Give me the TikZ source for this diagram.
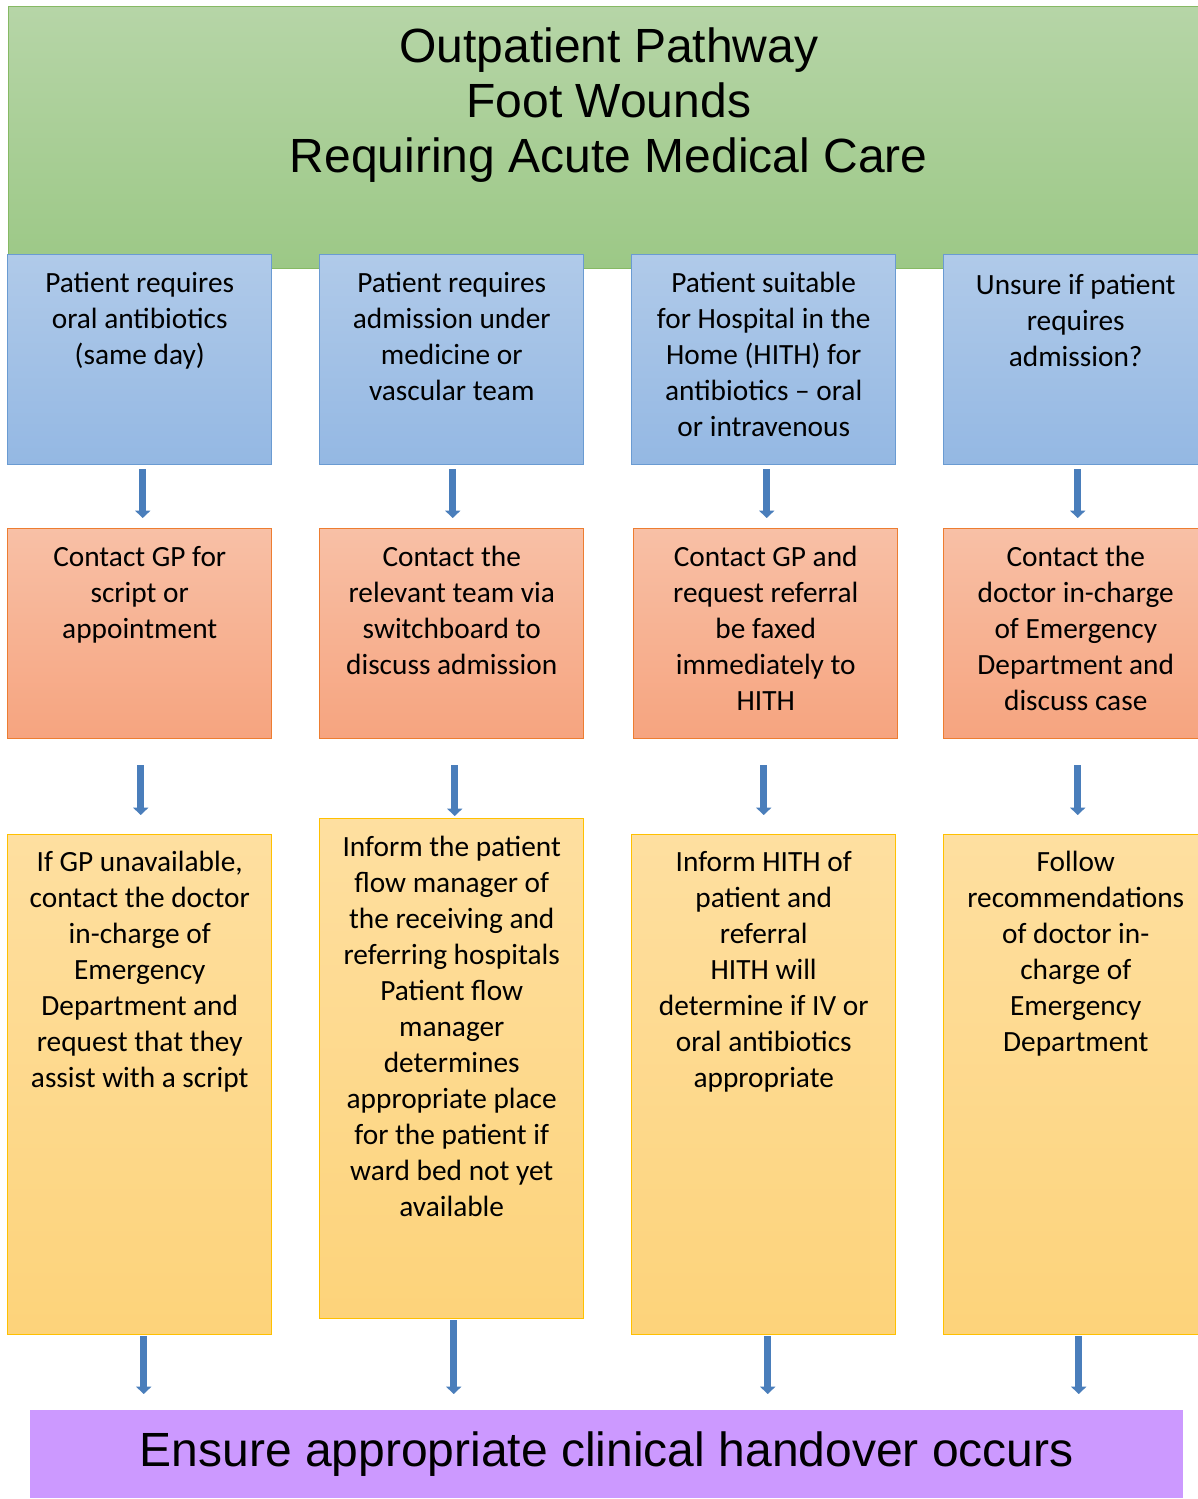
\documentclass[tikz,border=0pt]{standalone}
\usepackage{fontspec}
\setmainfont{Carlito}
\newfontfamily\titlefont{Liberation Sans}
\usepackage{tikz}
\usetikzlibrary{arrows.meta}

\definecolor{greenTop}{HTML}{B6D5A7}
\definecolor{greenBot}{HTML}{9CC886}
\definecolor{greenEdge}{HTML}{86B964}
\definecolor{blueTop}{HTML}{B0CAE9}
\definecolor{blueBot}{HTML}{94B8E3}
\definecolor{blueEdge}{HTML}{6A9BD2}
\definecolor{orangeTop}{HTML}{F8C0A6}
\definecolor{orangeBot}{HTML}{F6A47F}
\definecolor{orangeEdge}{HTML}{ED7D31}
\definecolor{yellowTop}{HTML}{FEDFA0}
\definecolor{yellowBot}{HTML}{FDD37A}
\definecolor{yellowEdge}{HTML}{FFC000}
\definecolor{handover}{HTML}{CC99FF}
\definecolor{flowBlue}{HTML}{4A7EBB}

% text of a box, set at its top
\newcommand{\boxtext}[4]{\parbox[c][#1][t]{#2}{\centering\vspace*{#3}\strut#4}}

\tikzset{
  box/.style={draw, line width=1.1pt, inner sep=0pt, anchor=north west,
    font=\fontsize{22}{27}\selectfont},
  bluebox/.style={box, draw=blueEdge, top color=blueTop, bottom color=blueBot},
  orangebox/.style={box, draw=orangeEdge, top color=orangeTop, bottom color=orangeBot},
  yellowbox/.style={box, draw=yellowEdge, top color=yellowTop, bottom color=yellowBot},
  flow/.style={line width=5.25pt, color=flowBlue,
    -{Triangle[width=11.25pt,length=5.5pt]}},
}

\begin{document}
\begin{tikzpicture}[x=0.75pt,y=-0.75pt]
\useasboundingbox (0,0) rectangle (1197,1499);

% Title
\node[box, draw=greenEdge, top color=greenTop, bottom color=greenBot,
  font=\titlefont\fontsize{36}{41.4}\selectfont] (title) at (8,6)
  {\boxtext{196.5pt}{900pt}{12.5pt}{Outpatient Pathway\\Foot Wounds\\Requiring Acute Medical Care}};

% First row
\node[bluebox] (b1) at (7,254)
  {\boxtext{157.5pt}{198pt}{9.5pt}{Patient requires\\oral antibiotics\\(same day)}};
\node[bluebox] (b2) at (319,254)
  {\boxtext{157.5pt}{198pt}{9.5pt}{Patient requires\\admission under\\medicine or\\vascular team}};
\node[bluebox] (b3) at (631,254)
  {\boxtext{157.5pt}{198pt}{9.5pt}{Patient suitable\\for Hospital in the\\Home (HITH) for\\antibiotics -- oral\\or intravenous}};
\node[bluebox] (b4) at (943,254)
  {\boxtext{157.5pt}{198pt}{11pt}{Unsure if patient\\requires\\admission?}};

% Second row
\node[orangebox] (o1) at (7,528)
  {\boxtext{157.5pt}{198pt}{9.5pt}{Contact GP for\\script or\\appointment}};
\node[orangebox] (o2) at (319,528)
  {\boxtext{157.5pt}{198pt}{9.5pt}{Contact the\\relevant team via\\switchboard to\\discuss admission}};
\node[orangebox] (o3) at (633,528)
  {\boxtext{157.5pt}{198pt}{9.5pt}{Contact GP and\\request referral\\be faxed\\immediately to\\HITH}};
\node[orangebox] (o4) at (943,528)
  {\boxtext{157.5pt}{198pt}{9.5pt}{Contact the\\doctor in-charge\\of Emergency\\Department and\\discuss case}};

% Third row
\node[yellowbox] (y1) at (7,834)
  {\boxtext{375pt}{198pt}{9pt}{If GP unavailable,\\contact the doctor\\in-charge of\\Emergency\\Department and\\request that they\\assist with a script}};
\node[yellowbox] (y2) at (319,818)
  {\boxtext{375pt}{198pt}{9.5pt}{Inform the patient\\flow manager of\\the receiving and\\referring hospitals\\Patient flow\\manager\\determines\\appropriate place\\for the patient if\\ward bed not yet\\available}};
\node[yellowbox] (y3) at (631,834)
  {\boxtext{375pt}{198pt}{9pt}{Inform HITH of\\patient and\\referral\\HITH will\\determine if IV or\\oral antibiotics\\appropriate}};
\node[yellowbox] (y4) at (943,834)
  {\boxtext{375pt}{198pt}{9pt}{Follow\\recommendations\\of doctor in-\\charge of\\Emergency\\Department}};

% Handover
\node[fill=handover, anchor=north west, minimum width=864.75pt, minimum height=66pt,
  inner sep=0pt, font=\titlefont\fontsize{36}{41.4}\selectfont] (hand) at (30,1410)
  {Ensure appropriate clinical handover occurs};

% Arrows
\draw[flow, shorten <=3pt, shorten >=7.5pt] ([xshift=2.25pt]b1.south) -- ([xshift=2.25pt]o1.north);
\draw[flow, shorten <=3pt, shorten >=7.5pt] ([xshift=0.75pt]b2.south) -- ([xshift=0.75pt]o2.north);
\draw[flow, shorten <=3pt, shorten >=7.5pt] ([xshift=2.25pt]b3.south) -- ([xshift=0.75pt]o3.north);
\draw[flow, shorten <=3pt, shorten >=7.5pt] ([xshift=1.5pt]b4.south) -- ([xshift=1.5pt]o4.north);

\draw[flow, shorten <=19.5pt, shorten >=14.25pt] ([xshift=0.75pt]o1.south) -- ([xshift=0.75pt]y1.north);
\draw[flow, shorten <=19.5pt, shorten >=1.5pt] ([xshift=2.25pt]o2.south) -- ([xshift=2.25pt]y2.north);
\draw[flow, shorten <=19.5pt, shorten >=14.25pt] ([xshift=-1.5pt]o3.south) -- (y3.north);
\draw[flow, shorten <=19.5pt, shorten >=14.25pt] ([xshift=1.5pt]o4.south) -- ([xshift=1.5pt]y4.north);

\draw[flow, shorten <=0.75pt, shorten >=12pt] ([xshift=3pt]y1.south) -- ([xshift=3pt]y1.south |- hand.north);
\draw[flow, shorten <=0.75pt, shorten >=12pt] ([xshift=1.5pt]y2.south) -- ([xshift=1.5pt]y2.south |- hand.north);
\draw[flow, shorten <=0.75pt, shorten >=12pt] ([xshift=3pt]y3.south) -- ([xshift=3pt]y3.south |- hand.north);
\draw[flow, shorten <=0.75pt, shorten >=12pt] ([xshift=2.25pt]y4.south) -- ([xshift=2.25pt]y4.south |- hand.north);
\end{tikzpicture}
\end{document}
